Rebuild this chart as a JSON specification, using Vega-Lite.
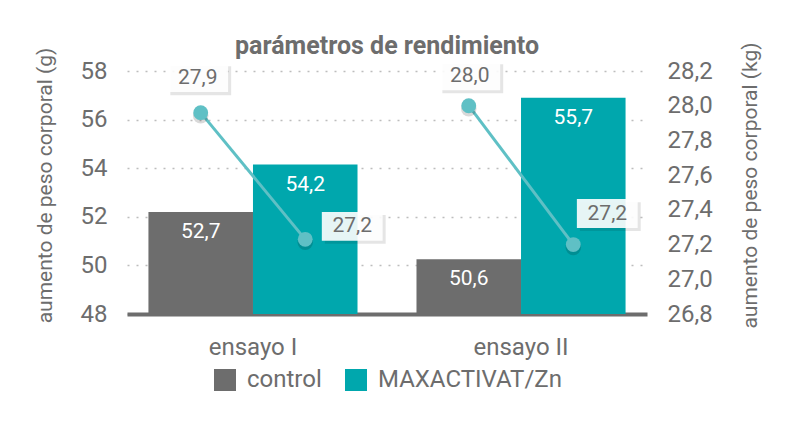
{
  "$schema": "https://vega.github.io/schema/vega-lite/v6.json",
  "autosize": {"type": "none"},
  "width": 520,
  "height": 243,
  "padding": {"left": 127, "top": 71, "right": 153, "bottom": 113},
  "background": "white",
  "config": {
    "font": "Roboto",
    "view": {"stroke": null},
    "axis": {"labelFont": "Roboto", "titleFont": "Roboto", "labelColor": "#6d6d6d", "titleColor": "#6d6d6d", "titleFontWeight": "normal"}
  },
  "title": {"text": "parámetros de rendimiento", "fontSize": 25, "fontWeight": "bold", "color": "#6d6d6d", "font": "Roboto", "anchor": "middle", "offset": -17},
  "data": {
    "values": [
      {"ensayo": "ensayo I", "grupo": "control", "g": 52.2, "gl": "52,7", "kg": 27.96, "kgl": "27,9"},
      {"ensayo": "ensayo I", "grupo": "MAXACTIVAT/Zn", "g": 54.15, "gl": "54,2", "kg": 27.23, "kgl": "27,2"},
      {"ensayo": "ensayo II", "grupo": "control", "g": 50.25, "gl": "50,6", "kg": 28.0, "kgl": "28,0"},
      {"ensayo": "ensayo II", "grupo": "MAXACTIVAT/Zn", "g": 56.9, "gl": "55,7", "kg": 27.2, "kgl": "27,2"}
    ]
  },
  "encoding": {
    "x": {"field": "ensayo", "type": "nominal", "title": null,
      "scale": {"paddingInner": 0.22, "paddingOuter": 0.08},
      "axis": {"labelAngle": 0, "labelFontSize": 24, "ticks": false, "labelPadding": 21, "domainColor": "#6d6d6d", "domainWidth": 4}},
    "xOffset": {"field": "grupo", "type": "nominal", "scale": {"domain": ["control", "MAXACTIVAT/Zn"]}}
  },
  "layer": [
    {
      "encoding": {
        "y": {"field": "g", "type": "quantitative", "scale": {"domain": [48, 58], "zero": false, "nice": false},
          "axis": {"title": "aumento de peso corporal (g)", "titleFontSize": 21, "titlePadding": 25, "titleY": 114, "labelFontSize": 24, "labelPadding": 20, "ticks": false, "domain": false, "values": [48, 50, 52, 54, 56, 58], "labelOverlap": false, "gridColor": "#bdbdbd", "gridDash": [2, 7], "gridWidth": 1.5}}
      },
      "layer": [
        {
          "mark": {"type": "bar", "clip": true},
          "encoding": {
            "color": {"field": "grupo", "type": "nominal", "title": null,
              "scale": {"domain": ["control", "MAXACTIVAT/Zn"], "range": ["#6d6d6d", "#00a7ad"]},
              "legend": {"orient": "none", "legendX": 86, "legendY": 297, "direction": "horizontal", "symbolType": "square", "symbolSize": 484, "symbolStrokeWidth": 0, "labelFontSize": 24, "labelColor": "#6d6d6d", "labelFont": "Roboto", "labelOffset": 10, "labelLimit": 400, "columnPadding": 22}}
          }
        },
        {
          "mark": {"type": "text", "color": "white", "fontSize": 21, "baseline": "middle", "dy": 20},
          "encoding": {"text": {"field": "gl"}}
        }
      ]
    },
    {
      "encoding": {
        "y": {"field": "kg", "type": "quantitative", "scale": {"domain": [26.8, 28.2], "zero": false, "nice": false},
          "axis": {"orient": "right", "title": "aumento de peso corporal (kg)", "titleFontSize": 21, "titleAngle": 270, "titlePadding": 48, "titleY": 114, "labelFontSize": 24, "labelPadding": 20, "ticks": false, "domain": false, "grid": false, "labelOverlap": false, "values": [26.8, 27.0, 27.2, 27.4, 27.6, 27.8, 28.0, 28.2], "labelExpr": "replace(format(datum.value, '.1f'), '.', ',')"}}
      },
      "layer": [
        {
          "mark": {"type": "line", "color": "#5fc0c5", "strokeWidth": 3},
          "encoding": {"detail": {"field": "ensayo"}}
        },
        {
          "mark": {"type": "point", "filled": true, "color": "#000000", "opacity": 0.15, "size": 240, "xOffset": 3, "yOffset": 3}
        },
        {
          "mark": {"type": "point", "filled": true, "color": "#5fc0c5", "opacity": 1, "size": 220}
        },
        {
          "mark": {"type": "point", "filled": true, "color": "#000000", "opacity": 0.1, "size": 3700,
            "shape": {"expr": "datum.grupo == 'control' ? (datum.ensayo == 'ensayo I' ? 'M-0.999,-0.375H1.001V0.575H-0.999Z' : 'M-0.867,-0.375H1.133V0.575H-0.867Z') : (datum.ensayo == 'ensayo I' ? 'M0.645,-0.375H2.645V0.575H0.645Z' : 'M0.218,-0.375H2.218V0.575H0.218Z')"},
            "yOffset": {"expr": "datum.grupo == 'control' ? (datum.ensayo == 'ensayo I' ? -35 : -30) : (datum.ensayo == 'ensayo I' ? -13 : -31)"}}
        },
        {
          "mark": {"type": "point", "filled": true, "color": "white", "opacity": 0.9, "size": 3700,
            "shape": {"expr": "datum.grupo == 'control' ? (datum.ensayo == 'ensayo I' ? 'M-1.099,-0.475H0.901V0.475H-1.099Z' : 'M-0.967,-0.475H1.033V0.475H-0.967Z') : (datum.ensayo == 'ensayo I' ? 'M0.545,-0.475H2.545V0.475H0.545Z' : 'M0.118,-0.475H2.118V0.475H0.118Z')"},
            "yOffset": {"expr": "datum.grupo == 'control' ? (datum.ensayo == 'ensayo I' ? -35 : -30) : (datum.ensayo == 'ensayo I' ? -13 : -31)"}}
        },
        {
          "mark": {"type": "text", "color": "#6d6d6d", "fontSize": 21, "baseline": "middle",
            "dx": {"expr": "datum.grupo == 'control' ? (datum.ensayo == 'ensayo I' ? -3 : 1) : (datum.ensayo == 'ensayo I' ? 47 : 34)"},
            "dy": {"expr": "datum.grupo == 'control' ? (datum.ensayo == 'ensayo I' ? -35 : -30) : (datum.ensayo == 'ensayo I' ? -13 : -31)"}},
          "encoding": {"text": {"field": "kgl"}}
        }
      ]
    }
  ],
  "resolve": {"scale": {"y": "independent"}}
}
